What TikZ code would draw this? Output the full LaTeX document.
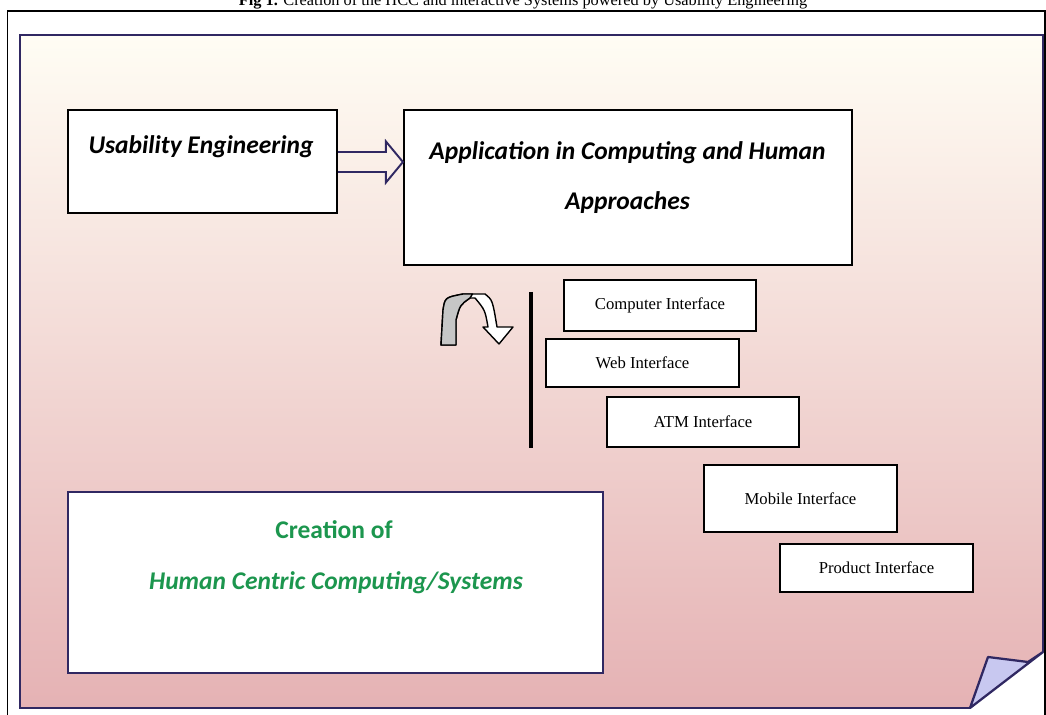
\documentclass[tikz,border=0pt]{standalone}
\usepackage{fontspec}
\setmainfont{Liberation Serif}
\newfontfamily\calfont{Carlito}
\usepackage{xcolor}
\usepackage{tikz}
\usetikzlibrary{positioning, arrows.meta, calc}
\definecolor{PageTop}{RGB}{255,253,244}
\definecolor{PageMid}{RGB}{243,221,221}
\definecolor{PageBot}{RGB}{229,178,180}
\definecolor{PageLine}{RGB}{48,40,98}
\definecolor{FoldLav}{RGB}{200,200,240}
\definecolor{HccGreen}{RGB}{28,150,78}
\definecolor{ArrGray}{RGB}{198,198,198}
\tikzset{
  lbox/.style={draw=black, line width=1.2pt, fill=white, inner sep=0pt},
  headtxt/.style={font=\calfont\bfseries\itshape\fontsize{14.5}{28}\selectfont, align=center, inner sep=0pt},
  hcctxt/.style={font=\calfont\bfseries\fontsize{14.5}{18}\selectfont, text=HccGreen, inner sep=0pt},
  ibox/.style={draw=black, line width=1.1pt, fill=white, minimum width=3.85cm, inner sep=0pt,
    font=\fontsize{9.5}{11}\selectfont},
  blockarr/.style={draw=PageLine, line width=1.1pt, line join=miter},
  pageedge/.style={draw=PageLine, line width=1.3pt},
}

\begin{document}
\begin{tikzpicture}
    \useasboundingbox (0,0) rectangle (20.92,-14.3);
    \clip (0,0) rectangle (20.92,-14.3);
    % caption, cut at the top edge as in the scan
    \node[anchor=base, font=\fontsize{9.3}{11}\selectfont, inner sep=0pt] (cap) at (10.46,-0.11)
      {\textbf{Fig 1.} Creation of the HCC and interactive Systems powered by Usability Engineering};
    \draw[line width=1pt] (0.15,-14.6) -- (0.15,-0.22) -- (20.9,-0.22) -- (20.9,-14.6);
    % page with folded corner
    \shade[top color=PageTop, middle color=PageMid, bottom color=PageBot]
      (0.4,-0.7) -- (20.86,-0.7) -- (20.86,-13.04) -- (19.4,-14.16) -- (0.4,-14.16) -- cycle;
    \draw[pageedge] (20.86,-13.04) -- (20.86,-0.7) -- (0.4,-0.7) -- (0.4,-14.16) -- (19.4,-14.16);
    \draw[pageedge, fill=FoldLav, line join=round] (19.4,-14.16) -- (19.76,-13.14) -- (20.56,-13.24)
      -- (20.86,-13.04) -- cycle;

    \node[lbox, minimum width=5.38cm, minimum height=2.06cm] (ue) at (4.05,-3.23) {};
    \node[headtxt] (ue-t) at (4.02,-2.94) {Usability Engineering};
    \node[lbox, minimum width=8.96cm, minimum height=3.1cm] (app) at (12.56,-3.75) {};
    \node[headtxt] (app-t) at (12.55,-3.55) {Application in Computing and Human\\Approaches};

    % hollow block arrow
    \coordinate (ar-s) at (ue.east |- 0,-3.24);
    \coordinate (ar-e) at (app.west |- 0,-3.24);
    \draw[blockarr] ([yshift=0.2cm]ar-s) -- ([xshift=-0.34cm,yshift=0.2cm]ar-e)
      -- ([xshift=-0.34cm,yshift=0.41cm]ar-e) -- (ar-e) -- ([xshift=-0.34cm,yshift=-0.41cm]ar-e)
      -- ([xshift=-0.34cm,yshift=-0.2cm]ar-e) -- ([yshift=-0.2cm]ar-s);

    % u-turn arrow and bar
    \filldraw[fill=white, draw=black, line width=0.8pt, line join=round]
      (8.82,-6.9) -- (8.86,-6.2) .. controls (8.9,-5.95) .. (9.26,-5.88) -- (9.7,-5.88)
      .. controls (9.85,-6.0) .. (9.94,-6.54) -- (10.26,-6.54) -- (9.98,-6.88) -- (9.66,-6.54)
      -- (9.76,-6.54) .. controls (9.7,-6.2) .. (9.5,-5.96) -- (9.4,-5.96)
      .. controls (9.2,-6.1) .. (9.12,-6.4) -- (9.12,-6.9) -- cycle;
    \filldraw[fill=ArrGray, draw=black, line width=0.8pt, line join=round]
      (8.82,-6.9) -- (8.86,-6.2) .. controls (8.9,-5.95) .. (9.26,-5.88) -- (9.45,-5.88)
      -- (9.4,-5.96) .. controls (9.2,-6.1) .. (9.12,-6.4) -- (9.12,-6.9) -- cycle;
    \draw[line width=2.3pt] (10.62,-5.84) -- (10.62,-8.96);

    \foreach \nm/\x/\y/\h/\t in {cmp/13.2/-6.11/1.02/Computer Interface,
        web/12.85/-7.26/0.96/Web Interface, atm/14.06/-8.44/1.0/ATM Interface,
        mob/16.01/-9.97/1.34/Mobile Interface, prd/17.53/-11.36/0.96/Product Interface} {
      \node[ibox, minimum height=\h cm] (if-\nm) at (\x,\y) {\t};
    }

    \node[lbox, draw=PageLine, minimum width=10.7cm, minimum height=3.62cm] (hcc) at (6.71,-11.65) {};
    \node[hcctxt] (hcc-a) at (6.68,-10.6) {Creation of};
    \node[hcctxt, font=\calfont\bfseries\itshape\fontsize{14.5}{18}\selectfont] (hcc-b) at (6.72,-11.66)
      {Human Centric Computing/Systems};
\end{tikzpicture}
\end{document}
